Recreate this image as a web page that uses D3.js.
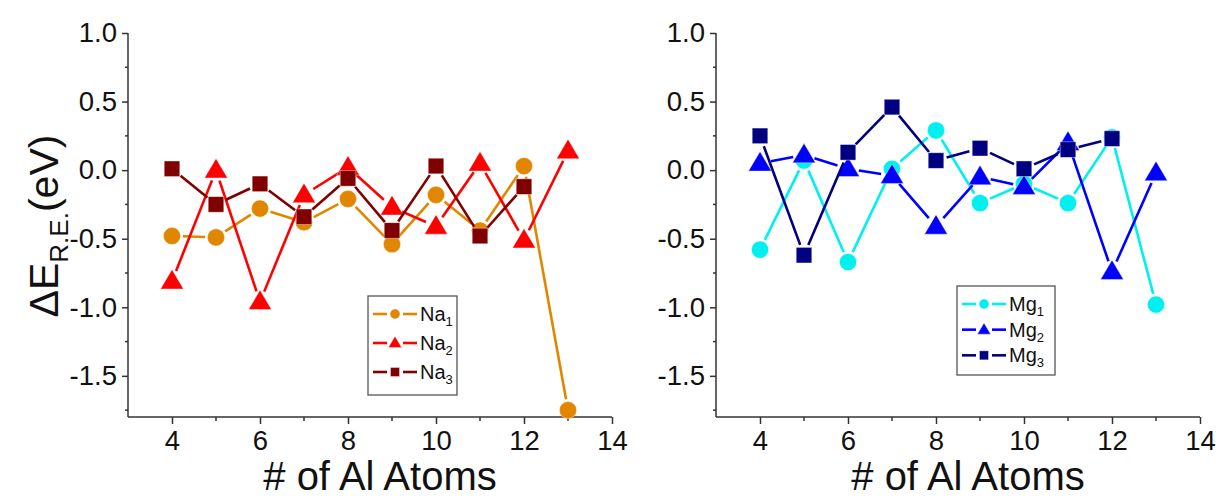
<!DOCTYPE html>
<html>
<head>
<meta charset="utf-8">
<script src="https://cdn.jsdelivr.net/npm/d3@7"></script>
<style>
  body { margin: 0; background: #fff; }
  svg { display: block; font-family: "Liberation Sans", Arial, sans-serif; }
</style>
</head>
<body>
<svg id="chart" width="1225" height="498"></svg>
<script>
// ---- data ----
const atoms = [4, 5, 6, 7, 8, 9, 10, 11, 12, 13];
const na1 = [-0.48, -0.49, -0.28, -0.38, -0.21, -0.54, -0.18, -0.44, 0.03, -1.75];
const na2 = [-0.81, 0.00, -0.96, -0.18, 0.02, -0.27, -0.41, 0.05, -0.51, 0.14];
const na3 = [0.01, -0.25, -0.10, -0.34, -0.06, -0.44, 0.03, -0.48, -0.12, null];
const mg1 = [-0.58, 0.07, -0.67, 0.01, 0.29, -0.24, -0.10, -0.24, 0.24, -0.98];
const mg2 = [0.05, 0.11, 0.01, -0.04, -0.41, -0.05, -0.12, 0.20, -0.74, -0.02];
const mg3 = [0.25, -0.62, 0.13, 0.46, 0.07, 0.16, 0.01, 0.15, 0.23, null];
const naNames = ["Na", "Na", "Na"];
const mgNames = ["Mg", "Mg", "Mg"];
const subs = ["1", "2", "3"];
const xTicks = [4, 6, 8, 10, 12, 14];
const yTicks = [1.0, 0.5, 0.0, -0.5, -1.0, -1.5];
const xDomain = [3, 14];
const yDomain = [-1.8, 1.0];

const svg = d3.select("#chart");
const shapes = ["circle", "triangle", "square"];

const panels = [
  { x0: 128, x1: 612, series: [na1, na2, na3], colors: ["#E08600", "#FF0000", "#800000"], names: naNames,
    legend: { x: 368, y: 296, w: 89, h: 99 } },
  { x0: 716, x1: 1200, series: [mg1, mg2, mg3], colors: ["#00F0F0", "#0000FF", "#000080"], names: mgNames,
    legend: { x: 957, y: 286, w: 98, h: 89 } }
];
const yTop = 33, yBot = 417;

function marker(g, shape, cx, cy, color, s) {
  if (shape === "circle") {
    g.append("circle").attr("cx", cx).attr("cy", cy).attr("r", 8.6 * s)
      .attr("fill", color).attr("stroke", "#ffffff").attr("stroke-opacity", 0.5).attr("stroke-width", 0.8);
  } else if (shape === "triangle") {
    const w = 11.5 * s, h = 19.5 * s;
    g.append("path").attr("d", `M${cx},${cy - h * 0.6}L${cx + w},${cy + h * 0.4}L${cx - w},${cy + h * 0.4}Z`)
      .attr("fill", color).attr("stroke", "#ffffff").attr("stroke-opacity", 0.5).attr("stroke-width", 0.8);
  } else {
    const a = 7.8 * s;
    g.append("rect").attr("x", cx - a).attr("y", cy - a).attr("width", 2 * a).attr("height", 2 * a)
      .attr("fill", color).attr("stroke", "#ffffff").attr("stroke-opacity", 0.5).attr("stroke-width", 0.8);
  }
}

panels.forEach(p => {
  const x = d3.scaleLinear().domain(xDomain).range([p.x0, p.x1]);
  const y = d3.scaleLinear().domain(yDomain).range([yBot, yTop]);
  const g = svg.append("g");

  // axes
  const yAxis = d3.axisLeft(y).tickValues(yTicks).tickSize(6).tickPadding(5);
  const gy = g.append("g").attr("transform", `translate(${p.x0},0)`).call(yAxis);
  gy.select(".domain").attr("d", `M0,${yTop}V${yBot}`).attr("stroke", "#333").attr("stroke-width", 1.5);
  gy.selectAll(".tick line").attr("stroke", "#333").attr("stroke-width", 1.5);
  gy.selectAll(".tick text").attr("font-size", 27.5).attr("fill", "#111")
    .text(d => d < 0 ? "-" + Math.abs(d).toFixed(1) : d.toFixed(1));
  // minor y ticks
  const yMinor = d3.range(-1.75, 1.0, 0.5);
  g.append("g").selectAll("line").data(yMinor).join("line")
    .attr("x1", p.x0 - 3).attr("x2", p.x0).attr("y1", d => y(d)).attr("y2", d => y(d))
    .attr("stroke", "#333").attr("stroke-width", 1.5);

  const xAxis = d3.axisBottom(x).tickValues(xTicks).tickSize(7).tickPadding(6);
  const gx = g.append("g").attr("transform", `translate(0,${yBot})`).call(xAxis);
  gx.select(".domain").attr("d", `M${p.x0},0H${p.x1}`).attr("stroke", "#333").attr("stroke-width", 1.5);
  gx.selectAll(".tick line").attr("stroke", "#333").attr("stroke-width", 1.5);
  gx.selectAll(".tick text").attr("font-size", 27.5).attr("fill", "#111");
  const xMinor = [5, 7, 9, 11, 13];
  g.append("g").selectAll("line").data(xMinor).join("line")
    .attr("x1", d => x(d)).attr("x2", d => x(d)).attr("y1", yBot).attr("y2", yBot + 4)
    .attr("stroke", "#333").attr("stroke-width", 1.5);

  // x title
  g.append("text").attr("x", (p.x0 + p.x1) / 2 + 10).attr("y", 490).attr("text-anchor", "middle")
    .attr("font-size", 40).attr("fill", "#111").text("# of Al Atoms");

  // series
  p.series.forEach((vals, si) => {
    const pts = atoms.map((a, i) => ({ a, v: vals[i] })).filter(d => d.v !== null);
    const sg = g.append("g");
    const gap = 11;
    for (let i = 0; i < pts.length - 1; i++) {
      const xa = x(pts[i].a), ya = y(pts[i].v), xb = x(pts[i + 1].a), yb = y(pts[i + 1].v);
      const L = Math.hypot(xb - xa, yb - ya);
      if (L <= 2 * gap) continue;
      const ux = (xb - xa) / L, uy = (yb - ya) / L;
      sg.append("line")
        .attr("x1", xa + ux * gap).attr("y1", ya + uy * gap)
        .attr("x2", xb - ux * gap).attr("y2", yb - uy * gap)
        .attr("stroke", p.colors[si]).attr("stroke-width", 2.6);
    }
    pts.forEach(d => marker(sg, shapes[si], x(d.a), y(d.v), p.colors[si], 1));
  });

  // legend
  const L = p.legend;
  const lg = g.append("g");
  lg.append("rect").attr("x", L.x).attr("y", L.y).attr("width", L.w).attr("height", L.h)
    .attr("fill", "#fff").attr("stroke", "#555").attr("stroke-width", 1.3);
  const rowH = (L.h - 12) / 3;
  p.series.forEach((vals, si) => {
    const cy = L.y + 18 + si * rowH;
    const lx0 = L.x + 5, lx1 = L.x + 49, mx = (lx0 + lx1) / 2;
    lg.append("line").attr("x1", lx0).attr("x2", mx - 8).attr("y1", cy).attr("y2", cy)
      .attr("stroke", p.colors[si]).attr("stroke-width", 2.6);
    lg.append("line").attr("x1", mx + 8).attr("x2", lx1).attr("y1", cy).attr("y2", cy)
      .attr("stroke", p.colors[si]).attr("stroke-width", 2.6);
    marker(lg, shapes[si], mx, cy, p.colors[si], 0.58);
    const t = lg.append("text").attr("x", lx1 + 3).attr("y", cy + 7).attr("font-size", 20).attr("fill", "#111");
    t.append("tspan").text(p.names[si]);
    t.append("tspan").attr("font-size", 13).attr("dy", 5).text(subs[si]);
  });
});

// y title (left panel)
const yt = svg.append("text").attr("transform", "translate(58,226) rotate(-90)")
  .attr("text-anchor", "middle").attr("font-size", 41).attr("fill", "#111");
yt.append("tspan").text("ΔE");
yt.append("tspan").attr("font-size", 26).attr("dy", 10).text("R.E.");
yt.append("tspan").attr("dy", -10).text("(eV)");
</script>
</body>
</html>
